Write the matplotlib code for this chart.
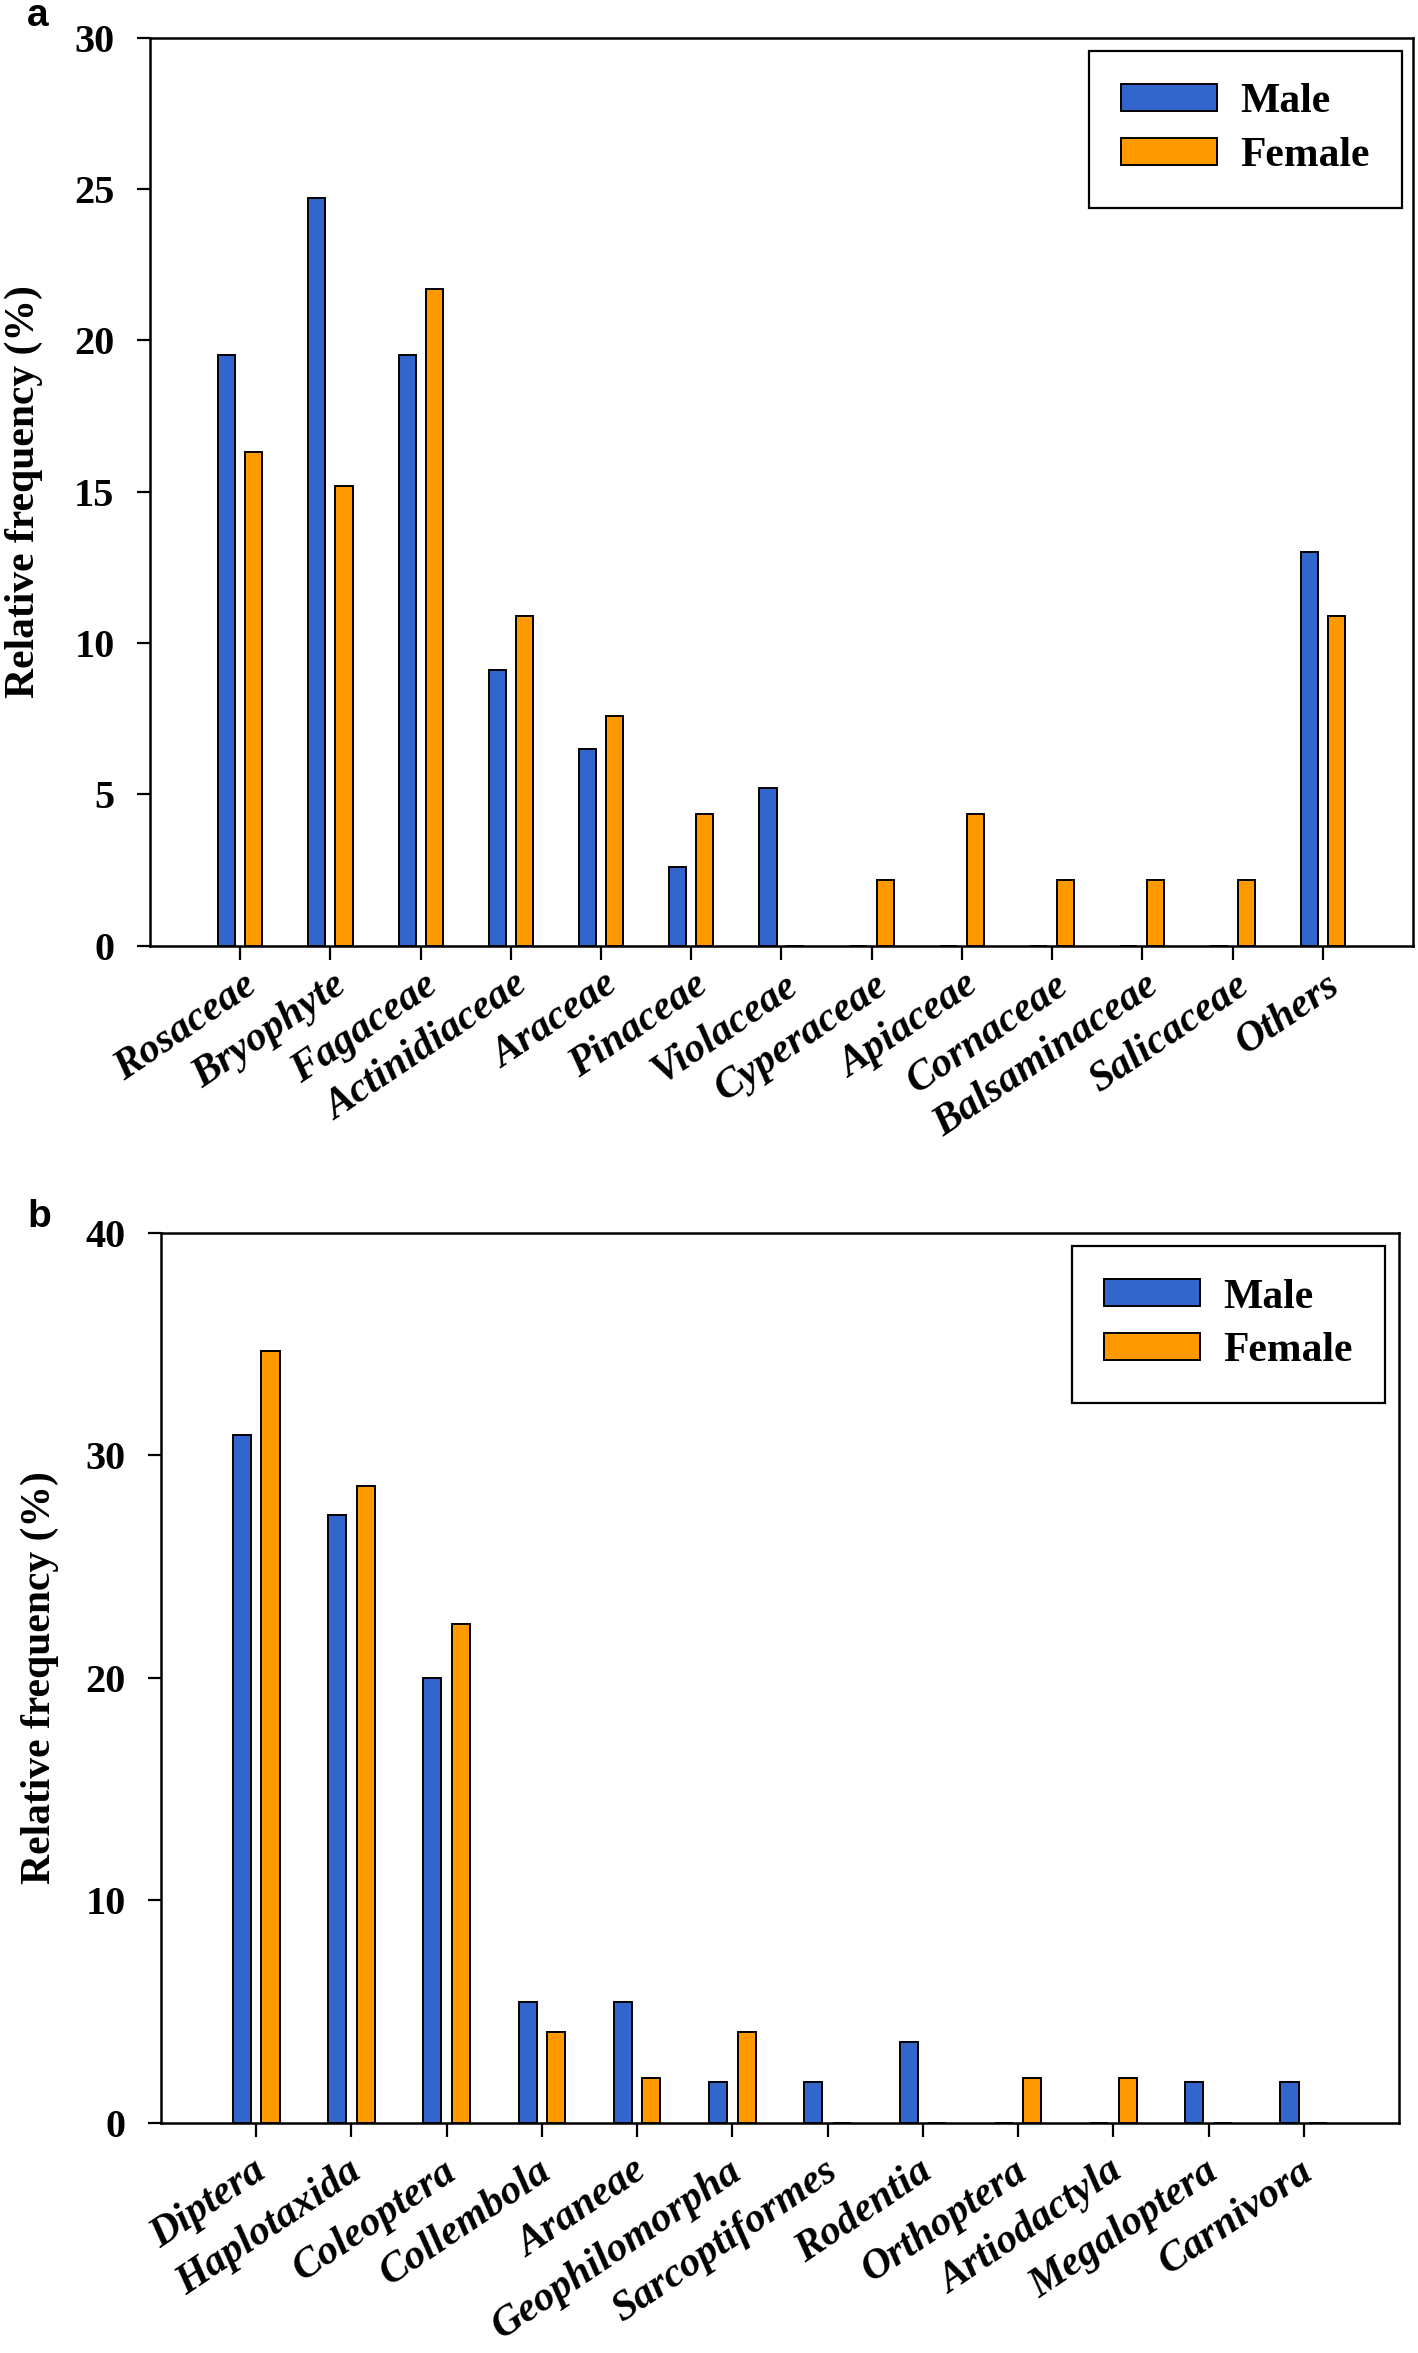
import numpy as np
import matplotlib
matplotlib.use("Agg")
import matplotlib.pyplot as plt
import matplotlib.transforms as mtransforms

# ── Данные ──
plants = ["Rosaceae", "Bryophyte", "Fagaceae", "Actinidiaceae", "Araceae",
          "Pinaceae", "Violaceae", "Cyperaceae", "Apiaceae", "Cornaceae",
          "Balsaminaceae", "Salicaceae", "Others"]
plants_male = [19.5, 24.7, 19.5, 9.1, 6.5, 2.6, 5.2, 0, 0, 0, 0, 0, 13.0]
plants_female = [16.3, 15.2, 21.7, 10.9, 7.6, 4.35, 0, 2.17, 4.35, 2.17,
                 2.17, 2.17, 10.9]

animals = ["Diptera", "Haplotaxida", "Coleoptera", "Collembola", "Araneae",
           "Geophilomorpha", "Sarcoptiformes", "Rodentia", "Orthoptera",
           "Artiodactyla", "Megaloptera", "Carnivora"]
animals_male = [30.9, 27.3, 20.0, 5.45, 5.45, 1.82, 1.82, 3.64, 0, 0, 1.82, 1.82]
animals_female = [34.7, 28.6, 22.4, 4.08, 2.04, 4.08, 0, 0, 2.04, 2.04, 0, 0]

BLUE = "#3366CC"
ORANGE = "#FF9900"
SERIF = "Liberation Serif"

W, H = 1418, 2353
fig = plt.figure(figsize=(W / 100, H / 100), dpi=100)


def _panel(rect_px, cats, male, female, ymax, ystep, legend_anchor,
           xpad, xshift_px, ylabel_x):
    left, top, right, bottom = rect_px
    ax = fig.add_axes([left / W, 1 - bottom / H, (right - left) / W,
                       (bottom - top) / H])
    x = np.arange(len(cats))
    w = 0.19
    ax.bar(x - 0.15, male, w, color=BLUE, edgecolor="black", linewidth=1.4,
           label="Male", zorder=3)
    ax.bar(x + 0.15, female, w, color=ORANGE, edgecolor="black",
           linewidth=1.4, label="Female", zorder=3)
    ax.set_xlim(-1, len(cats))
    ax.set_ylim(0, ymax)
    ax.set_yticks(np.arange(0, ymax + 0.1, ystep))
    ax.set_xticks(x)
    ax.set_xticklabels(cats, rotation=34, ha="right", rotation_mode="anchor",
                       fontsize=30, fontweight="bold", fontstyle="italic",
                       family=SERIF)
    for lab in ax.get_yticklabels():
        lab.set_fontsize(29)
        lab.set_fontweight("bold")
        lab.set_family(SERIF)
    ax.tick_params(axis="y", direction="out", length=9.5, width=1.6, pad=16)
    ax.tick_params(axis="x", direction="out", length=10, width=1.6, pad=xpad)
    # небольшой горизонтальный сдвиг подписей категорий
    off = mtransforms.ScaledTranslation(xshift_px / 100, 0,
                                        fig.dpi_scale_trans)
    for lab in ax.get_xticklabels():
        lab.set_transform(lab.get_transform() + off)
    for s in ax.spines.values():
        s.set_linewidth(1.8)
    ax.set_ylabel("Relative frequency (%)", fontsize=30, fontweight="bold",
                  family=SERIF)
    ax.yaxis.set_label_coords(ylabel_x, 0.5)
    leg = ax.legend(loc="upper right", bbox_to_anchor=legend_anchor,
                    borderaxespad=0, fancybox=False, framealpha=1,
                    edgecolor="black", handlelength=2.3, handleheight=0.62,
                    handletextpad=0.55, labelspacing=0.38, borderpad=0.78,
                    prop=dict(family=SERIF, weight="bold", size=30))
    leg.get_frame().set_linewidth(1.6)
    return ax


ax_a = _panel((150, 37.7, 1413, 945.5), plants, plants_male, plants_female,
              30, 5, (0.9913, 0.9857), xpad=5, xshift_px=2, ylabel_x=-0.085)
ax_b = _panel((161, 1232.7, 1399, 2123), animals, animals_male,
              animals_female, 40, 10, (0.9887, 0.985), xpad=11, xshift_px=-5,
              ylabel_x=-0.082)

fig.text(27 / W, 1 - 26 / H, "a", fontsize=28, fontweight="bold",
         family="Liberation Sans", va="baseline", ha="left")
fig.text(27 / W, 1 - 1227 / H, "b", fontsize=28, fontweight="bold",
         family="Liberation Sans", va="baseline", ha="left")

fig.savefig("out.png", dpi=100, facecolor="white")
